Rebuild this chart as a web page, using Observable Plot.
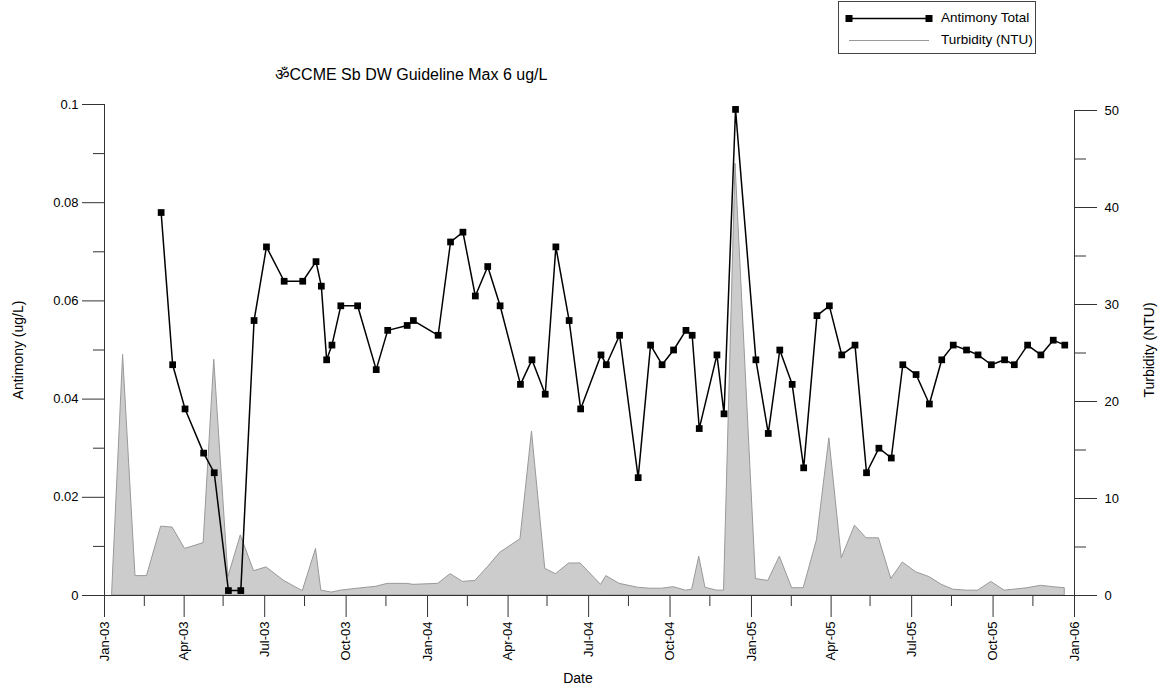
<!DOCTYPE html>
<html>
<head>
<meta charset="utf-8">
<script src="https://cdn.jsdelivr.net/npm/d3@7"></script>
<script src="https://cdn.jsdelivr.net/npm/@observablehq/plot@0.6"></script>
<style>
  body { margin: 0; background: #fff; }
  #chart { position: relative; width: 1165px; height: 690px; font-family: "Liberation Sans", Arial, sans-serif; color: #000; }
  #chart svg { position: absolute; left: 0; top: 0; }
  .lbl { position: absolute; font-size: 14px; white-space: nowrap; line-height: 1; }
  .title { font-size: 16px; }
  .rot { transform: translate(-50%, -50%) rotate(-90deg); }
  .ctr { transform: translate(-50%, -50%); }
  #legend { position: absolute; left: 838px; top: 1px; width: 196px; height: 51px; border: 1px solid #444; background: #fff; }
  #legend svg { position: absolute; left: 0; top: 0; }
  #legend .item { position: absolute; left: 102px; font-size: 13.5px; line-height: 1; }
</style>
</head>
<body>
<div id="chart"></div>
<script>
// Antimony total (ug/L), sampling dates
const sbDates = [
  "2003-03-06","2003-03-19","2003-04-02","2003-04-23","2003-05-05","2003-05-21","2003-06-04","2003-06-19",
  "2003-07-03","2003-07-23","2003-08-13","2003-08-28","2003-09-03","2003-09-09","2003-09-15","2003-09-25",
  "2003-10-14","2003-11-04","2003-11-17","2003-12-09","2003-12-16","2004-01-13","2004-01-27","2004-02-10",
  "2004-02-24","2004-03-09","2004-03-23","2004-04-15","2004-04-28","2004-05-13","2004-05-25","2004-06-09",
  "2004-06-22","2004-07-15","2004-07-21","2004-08-05","2004-08-26","2004-09-09","2004-09-22","2004-10-05",
  "2004-10-19","2004-10-26","2004-11-03","2004-11-23","2004-12-01","2004-12-14","2005-01-06","2005-01-20",
  "2005-02-02","2005-02-16","2005-03-01","2005-03-16","2005-03-30","2005-04-13","2005-04-28","2005-05-11",
  "2005-05-25","2005-06-08","2005-06-21","2005-07-06","2005-07-21","2005-08-04","2005-08-17","2005-09-01",
  "2005-09-14","2005-09-29","2005-10-14","2005-10-25","2005-11-09","2005-11-24","2005-12-08","2005-12-21"
];
const sbValues = [
  0.078,0.047,0.038,0.029,0.025,0.001,0.001,0.056,
  0.071,0.064,0.064,0.068,0.063,0.048,0.051,0.059,
  0.059,0.046,0.054,0.055,0.056,0.053,0.072,0.074,
  0.061,0.067,0.059,0.043,0.048,0.041,0.071,0.056,
  0.038,0.049,0.047,0.053,0.024,0.051,0.047,0.050,
  0.054,0.053,0.034,0.049,0.037,0.099,0.048,0.033,
  0.050,0.043,0.026,0.057,0.059,0.049,0.051,0.025,
  0.030,0.028,0.047,0.045,0.039,0.048,0.051,0.050,
  0.049,0.047,0.048,0.047,0.051,0.049,0.052,0.051
];

// Turbidity (NTU), sampling dates
const turbDates = [
  "2003-01-10","2003-01-22","2003-02-05","2003-02-18",
  "2003-03-06","2003-03-19","2003-04-02","2003-04-23","2003-05-05","2003-05-21","2003-06-04","2003-06-19",
  "2003-07-03","2003-07-23","2003-08-13","2003-08-28","2003-09-03","2003-09-09","2003-09-15","2003-09-25",
  "2003-10-14","2003-11-04","2003-11-17","2003-12-09","2003-12-16","2004-01-13","2004-01-27","2004-02-10",
  "2004-02-24","2004-03-09","2004-03-23","2004-04-15","2004-04-28","2004-05-13","2004-05-25","2004-06-09",
  "2004-06-22","2004-07-15","2004-07-21","2004-08-05","2004-08-26","2004-09-09","2004-09-22","2004-10-05",
  "2004-10-19","2004-10-26","2004-11-03","2004-11-10","2004-11-23","2004-12-01","2004-12-14","2005-01-06","2005-01-20",
  "2005-02-02","2005-02-16","2005-03-01","2005-03-16","2005-03-30","2005-04-13","2005-04-28","2005-05-11",
  "2005-05-25","2005-06-08","2005-06-21","2005-07-06","2005-07-21","2005-08-04","2005-08-17","2005-09-01",
  "2005-09-14","2005-09-29","2005-10-14","2005-10-25","2005-11-09","2005-11-24","2005-12-08","2005-12-21"
];
const turbValues = [
  1.0,24.8,2.0,2.0,
  7.1,7.0,4.8,5.4,24.3,1.9,6.2,2.5,
  2.9,1.5,0.45,4.8,0.5,0.4,0.3,0.5,
  0.7,0.9,1.2,1.2,1.1,1.2,2.2,1.4,
  1.5,2.9,4.4,5.8,16.9,2.75,2.2,3.3,
  3.3,1.1,2.0,1.2,0.8,0.7,0.7,0.86,
  0.5,0.6,4.0,0.8,0.5,0.5,44.5,1.7,1.5,
  4.0,0.75,0.75,5.7,16.2,3.85,7.2,5.9,
  5.9,1.7,3.4,2.4,1.9,1.1,0.6,0.5,
  0.5,1.4,0.5,0.6,0.75,1.0,0.86,0.75
];

// Axis ticks
const xMajorTicks = [
  "2003-01-01","2003-04-01","2003-07-01","2003-10-01","2004-01-01","2004-04-01","2004-07-01",
  "2004-10-01","2005-01-01","2005-04-01","2005-07-01","2005-10-01","2006-01-01"
];
const xMinorTicks = [
  "2003-02-15","2003-05-15","2003-08-15","2003-11-15","2004-02-15","2004-05-15",
  "2004-08-15","2004-11-15","2005-02-15","2005-05-15","2005-08-15","2005-11-15"
];
const sbMajorTicks = [0, 0.02, 0.04, 0.06, 0.08, 0.1];
const sbMinorTicks = [0.01, 0.03, 0.05, 0.07, 0.09];
const turbMajorTicks = [0, 10, 20, 30, 40, 50];
const turbMinorTicks = [5, 15, 25, 35, 45];

const parse = d3.utcParse("%Y-%m-%d");
const sb = sbDates.map((d, i) => ({date: parse(d), value: sbValues[i]}));
const turb = turbDates.map((d, i) => ({date: parse(d), value: turbValues[i]}));

// Turbidity shares the plot's y scale: 50 NTU sits just under 0.1 ug/L
const k = (0.1 * 485 / 491) / 50;
const toY = t => t * k;

const start = parse("2003-01-01"), end = parse("2006-01-01");
const tickStroke = "#333";

const plot = Plot.plot({
  width: 1165,
  height: 690,
  marginLeft: 104,
  marginRight: 91,
  marginTop: 104,
  marginBottom: 95,
  style: {fontFamily: '"Liberation Sans", Arial, sans-serif', fontSize: "13px", color: "#000", background: "transparent"},
  x: {type: "utc", domain: [start, end]},
  y: {domain: [0, 0.1]},
  marks: [
    Plot.areaY(turb, {x: "date", y: d => toY(d.value), fill: "#cccccc", stroke: "#999999", strokeWidth: 1}),
    Plot.ruleY([0], {stroke: tickStroke}),
    Plot.ruleX([start], {y1: 0, y2: 0.1, stroke: tickStroke}),
    Plot.ruleX([end], {y1: 0, y2: toY(50), stroke: tickStroke}),
    Plot.axisY({ticks: sbMajorTicks, tickSize: 22, tickPadding: 4, stroke: tickStroke, tickFormat: d => String(d), label: null}),
    Plot.axisY({ticks: sbMinorTicks, tickSize: 11, stroke: tickStroke, tickFormat: () => "", label: null}),
    Plot.axisY({anchor: "right", ticks: turbMajorTicks.map(toY), tickSize: 22, tickPadding: 8, stroke: tickStroke,
                tickFormat: v => String(Math.round(v / k)), label: null}),
    Plot.axisY({anchor: "right", ticks: turbMinorTicks.map(toY), tickSize: 11, stroke: tickStroke, tickFormat: () => "", label: null}),
    Plot.axisX({ticks: xMajorTicks.map(parse), tickSize: 22, tickPadding: 4, tickRotate: -90, stroke: tickStroke,
                tickFormat: d3.utcFormat("%b-%y"), label: null}),
    Plot.axisX({ticks: xMinorTicks.map(parse), tickSize: 11, stroke: tickStroke, tickFormat: () => "", label: null}),
    Plot.line(sb, {x: "date", y: "value", stroke: "#000", strokeWidth: 1.5}),
    Plot.dot(sb, {x: "date", y: "value", symbol: "square", fill: "#000", stroke: "none", r: 3.8})
  ]
});

const chart = document.getElementById("chart");
chart.appendChild(plot);

function addLabel(text, x, y, cls) {
  const el = document.createElement("div");
  el.className = "lbl " + cls;
  el.style.left = x + "px";
  el.style.top = y + "px";
  el.textContent = text;
  chart.appendChild(el);
}
addLabel("ॐCCME Sb DW Guideline Max 6 ug/L", 411, 75, "ctr title");
addLabel("Antimony (ug/L)", 18, 350, "rot");
addLabel("Turbidity (NTU)", 1149, 350, "rot");
addLabel("Date", 578, 678, "ctr");

// Legend
const legend = document.createElement("div");
legend.id = "legend";
legend.innerHTML = `
  <svg width="196" height="51">
    <line x1="10" x2="90" y1="16.5" y2="16.5" stroke="#000" stroke-width="1.5"/>
    <rect x="6.5" y="13" width="7" height="7" fill="#000"/>
    <rect x="86.5" y="13" width="7" height="7" fill="#000"/>
    <line x1="10" x2="90" y1="38.5" y2="38.5" stroke="#999" stroke-width="1"/>
  </svg>
  <div class="item" style="top:9px">Antimony Total</div>
  <div class="item" style="top:31px">Turbidity (NTU)</div>`;
chart.appendChild(legend);
</script>
</body>
</html>
